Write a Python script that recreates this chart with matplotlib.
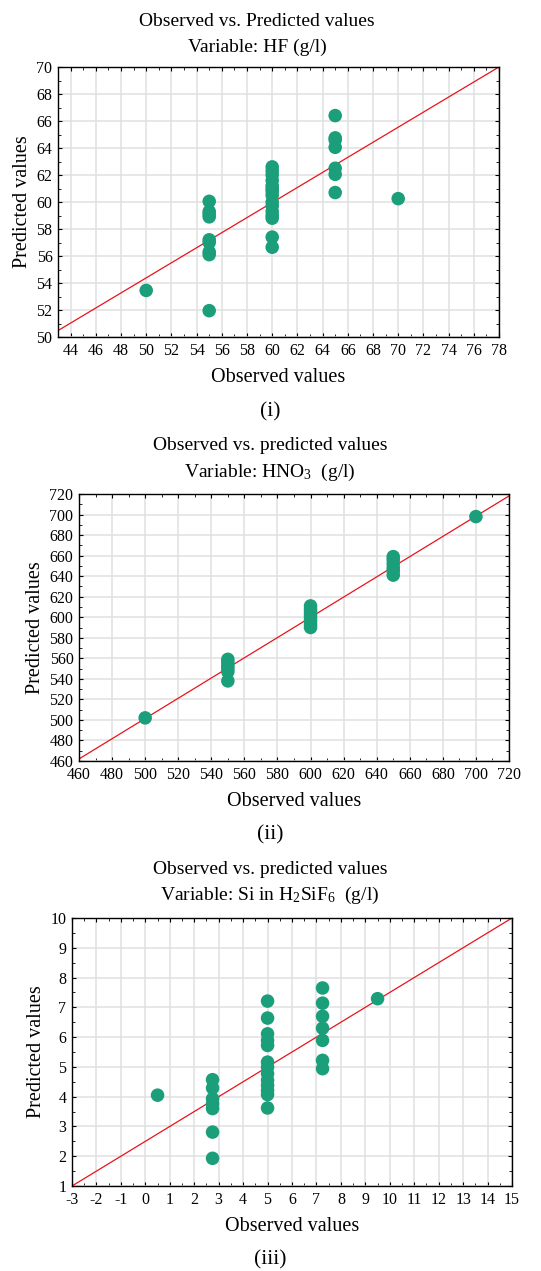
import matplotlib
matplotlib.use('Agg')
import matplotlib.pyplot as plt
import numpy as np
from matplotlib.ticker import MultipleLocator

plt.rcParams['font.family'] = ['Liberation Serif', 'DejaVu Serif']
plt.rcParams['mathtext.fontset'] = 'custom'
plt.rcParams['mathtext.rm'] = 'Liberation Serif'
plt.rcParams['mathtext.it'] = 'Liberation Serif:italic'
plt.rcParams['axes.unicode_minus'] = False

# Panel (i): HF
hf_obs = [50,
          55, 55, 55, 55, 55, 55, 55, 55, 55,
          60, 60, 60, 60, 60, 60, 60, 60, 60, 60, 60, 60, 60, 60, 60,
          65, 65, 65, 65, 65, 65, 65,
          70]
hf_pred = [53.45,
           60.05, 59.3, 59.1, 58.9, 57.2, 57.0, 56.3, 56.1, 51.95,
           62.6, 62.3, 62.0, 61.6, 61.2, 61.0, 60.8, 60.5, 60.0, 59.7, 59.3, 59.0, 58.8, 57.4, 56.65,
           66.4, 64.75, 64.6, 64.05, 62.5, 62.05, 60.7,
           60.25]
hf_fit = (0.558, 26.48)

# Panel (ii): HNO3
hno3_obs = [500,
            550, 550, 550, 550, 550, 550,
            600, 600, 600, 600, 600, 600, 600, 600,
            650, 650, 650, 650, 650, 650,
            700]
hno3_pred = [502,
             559, 556, 553, 550, 547, 538,
             611, 608, 605, 602, 599, 596, 593, 590,
             659, 656, 652, 648, 645, 641,
             698]
hno3_fit = (0.985, 8.9)

# Panel (iii): Si in H2SiF6
si_obs = [0.5,
          2.75, 2.75, 2.75, 2.75, 2.75, 2.75, 2.75,
          5, 5, 5, 5, 5, 5, 5, 5, 5, 5, 5, 5, 5,
          7.25, 7.25, 7.25, 7.25, 7.25, 7.25, 7.25,
          9.5]
si_pred = [4.05,
           4.57, 4.29, 3.93, 3.76, 3.6, 2.81, 1.93,
           7.21, 6.64, 6.11, 5.89, 5.72, 5.16, 4.99, 4.77, 4.55, 4.38, 4.21, 4.07, 3.62,
           7.65, 7.14, 6.70, 6.30, 5.89, 5.22, 4.94,
           7.29]
si_fit = (0.5, 2.5)

W, H = 541, 1271
GREEN = '#1b9e7a'

fig = plt.figure(figsize=(W / 100, H / 100), dpi=100)


def px_axes(left, right, top, bottom):
    return fig.add_axes([left / W, 1 - bottom / H, (right - left) / W, (bottom - top) / H])


def draw_panel(ax, obs, pred, fit, xlim, ylim, xmaj, xmin, ymaj, ymin):
    ax.set_xlim(*xlim)
    ax.set_ylim(*ylim)
    ax.xaxis.set_major_locator(MultipleLocator(xmaj))
    ax.xaxis.set_minor_locator(MultipleLocator(xmin))
    ax.yaxis.set_major_locator(MultipleLocator(ymaj))
    ax.yaxis.set_minor_locator(MultipleLocator(ymin))
    ax.grid(which='major', color='#e0e0e0', linewidth=1.1, zorder=0)
    ax.set_axisbelow(True)
    xs = np.array(xlim)
    ax.plot(xs, fit[0] * xs + fit[1], color='#e8141b', linewidth=0.9, zorder=2)
    ax.scatter(obs, pred, s=95, color=GREEN, edgecolors='none', zorder=3)
    ax.tick_params(which='both', direction='in', top=True, right=True,
                   labelsize=11.5, pad=4, color='black')
    ax.tick_params(which='major', length=3, width=0.8)
    ax.tick_params(which='minor', length=2, width=0.6)
    for sp in ax.spines.values():
        sp.set_linewidth(1.0)


def ftext(x, y, s, size=14, **kw):
    fig.text(x / W, 1 - y / H, s, ha='center', va='center', fontsize=size, **kw)


# (i)
ax1 = px_axes(58, 499, 67, 337)
draw_panel(ax1, hf_obs, hf_pred, hf_fit, (43, 78), (50, 70), 2, 1, 2, 1)
ax1.set_xlabel('Observed values', fontsize=14.5, labelpad=7)
ax1.set_ylabel('Predicted values', fontsize=14.5, labelpad=3)
ftext(257, 21, 'Observed vs. Predicted values')
ftext(257, 47, 'Variable: HF (g/l)')
ftext(270, 412, '(i)', size=15.5)

# (ii)
ax2 = px_axes(79, 509, 494, 761)
draw_panel(ax2, hno3_obs, hno3_pred, hno3_fit, (460, 720), (460, 720), 20, 10, 20, 10)
ax2.set_xlabel('Observed values', fontsize=14.5, labelpad=7)
ax2.set_ylabel('Predicted values', fontsize=14.5, labelpad=3)
ftext(270, 445, 'Observed vs. predicted values')
ftext(270, 472, r'Variable: HNO$_3$  (g/l)')
ftext(270, 835, '(ii)', size=15.5)

# (iii)
ax3 = px_axes(72, 512, 918, 1186)
draw_panel(ax3, si_obs, si_pred, si_fit, (-3, 15), (1, 10), 1, 0.5, 1, 0.5)
ax3.set_xlabel('Observed values', fontsize=14.5, labelpad=7)
ax3.set_ylabel('Predicted values', fontsize=14.5, labelpad=3)
ftext(270, 869, 'Observed vs. predicted values')
ftext(270, 895, r'Variable: Si in H$_2$SiF$_6$  (g/l)')
ftext(270, 1260, '(iii)', size=15.5)

fig.savefig('out.png', dpi=100)
